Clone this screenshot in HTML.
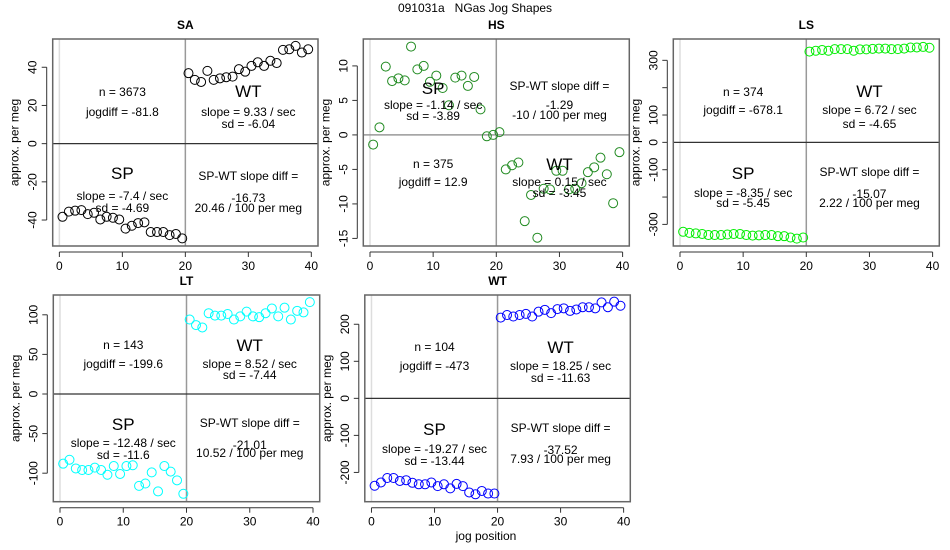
<!DOCTYPE html>
<html><head><meta charset="utf-8"><style>
body{margin:0;background:#fff;}
svg{display:block;font-family:"Liberation Sans",sans-serif;}
</style></head><body>
<svg id="c" width="950" height="550" viewBox="0 0 950 550">
<text x="475" y="12" text-anchor="middle" font-size="12">091031a&#160;&#160;&#160;NGas Jog Shapes</text>
<text x="486" y="540" text-anchor="middle" font-size="12">jog position</text>
</svg>
<script>
const jogPositions = [0.5,1.5,2.5,3.5,4.5,5.5,6.5,7.5,8.5,9.5,10.5,11.5,12.5,13.5,14.5,15.5,16.5,17.5,18.5,19.5];
const jogPositionsWT = [20.5,21.5,22.5,23.5,24.5,25.5,26.5,27.5,28.5,29.5,30.5,31.5,32.5,33.5,34.5,35.5,36.5,37.5,38.5,39.5];
const xTicks = [0,10,20,30,40];
const saSP = [-38.3,-35.6,-35.1,-34.8,-36.9,-36.2,-39.7,-38.3,-38.8,-39.7,-44.5,-43,-41.6,-41.2,-46.3,-46.3,-46.3,-47.9,-47.3,-49.6];
const saWT = [36.9,33.4,32.3,38.1,33.4,34.2,34.8,35.1,39,37.7,40.7,42.6,40.7,43.4,42.2,49.1,49.4,51.2,47.7,49.4];
const hsSP = [-1.4,1.1,9.9,7.8,8.2,7.9,12.8,9.5,10,7.7,8.6,6.8,4.3,8.3,8.6,7.1,8.4,3.7,-0.2,0];
const hsWT = [0.4,-5,-4.4,-4,-12.5,-8.7,-14.9,-7.8,-7.9,-5.2,-5.2,-7.9,-7.8,-7,-5.4,-4.7,-3.3,-5.7,-9.9,-2.5];
const lsSP = [-327,-331,-333,-335,-339,-339,-339,-337,-335,-335,-339,-341,-340,-339,-339,-343,-343,-348,-352,-348];
const lsWT = [332,335,338,335,341,341,341,335,340,340,342,343,343,341,341,343,347,347,349,346];
const ltSP = [-88,-83,-94,-96,-96,-93,-96,-102,-91,-101,-91,-90,-116,-113,-99,-123,-91,-98,-109,-126];
const ltWT = [94,87,84,102,99,99,101,94,98,104,98,97,102,108,98,109,94,105,103,116];
const wtSP = [-236,-227,-215,-215,-223,-221,-228,-232,-232,-227,-237,-232,-243,-231,-237,-254,-259,-250,-257,-257];
const wtWT = [218,225,221,225,228,221,234,239,230,241,243,236,240,246,246,243,259,246,261,250];
const saYTicks = [40,20,0,-20,-40];
const hsYTicks = [10,5,0,-5,-10,-15];
const lsYTicks = [300,200,100,0,-100,-200,-300];
const lsYLabels = ["300","","100","0","-100","","-300"];
const ltYTicks = [100,50,0,-50,-100];
const wtYTicks = [200,100,0,-100,-200];

const NS="http://www.w3.org/2000/svg";
const svg=document.getElementById('c');
function mk(tag,attrs,parent){const e=document.createElementNS(NS,tag);for(const k in attrs)e.setAttribute(k,attrs[k]);(parent||svg).appendChild(e);return e;}
function txt(x,y,s,size,parent,extra){const t=mk('text',Object.assign({x:x,y:y,'text-anchor':'middle','font-size':size},extra||{}),parent);t.textContent=s;return t;}

const panels=[
 {name:'sa',title:'SA',L:52.7,R:318,T:39,B:246,y0:54.8,y1:-53.6,sp:saSP,wt:saWT,col:'#000',ticks:saYTicks,labels:null,
  flip:false,n:'n = 3673',jog:'jogdiff = -81.8',wts:'slope = 9.33 / sec',wtsd:'sd = -6.04',sps:'slope = -7.4 / sec',spsd:'sd = -4.69',d1:'-16.73',d2:'20.46 / 100 per meg',
  ty:[92,112, 91,112,124, 173,196,208, 176,198,208]},
 {name:'hs',title:'HS',L:363.3,R:629.3,T:39,B:246,y0:13.9,y1:-16.1,sp:hsSP,wt:hsWT,col:'#228b22',ticks:hsYTicks,labels:null,
  flip:true,n:'n = 375',jog:'jogdiff = 12.9',wts:'slope = 0.15 / sec',wtsd:'sd = -3.45',sps:'slope = -1.14 / sec',spsd:'sd = -3.89',d1:'-1.29',d2:'-10 / 100 per meg',
  ty:[164,182, 164,182,193, 88,105,116, 86,105,115]},
 {name:'ls',title:'LS',L:673.3,R:939.3,T:39,B:246,y0:378,y1:-379,sp:lsSP,wt:lsWT,col:'#00ee00',ticks:lsYTicks,labels:lsYLabels,
  flip:false,n:'n = 374',jog:'jogdiff = -678.1',wts:'slope = 6.72 / sec',wtsd:'sd = -4.65',sps:'slope = -8.35 / sec',spsd:'sd = -5.45',d1:'-15.07',d2:'2.22 / 100 per meg',
  ty:[92,110, 91,110,124, 173,193,203, 172,194,203]},
 {name:'lt',title:'LT',L:53.3,R:319.7,T:295,B:501.7,y0:125,y1:-136,sp:ltSP,wt:ltWT,col:'#00ffff',ticks:ltYTicks,labels:null,
  flip:false,n:'n = 143',jog:'jogdiff = -199.6',wts:'slope = 8.52 / sec',wtsd:'sd = -7.44',sps:'slope = -12.48 / sec',spsd:'sd = -11.6',d1:'-21.01',d2:'10.52 / 100 per meg',
  ty:[345,364, 345,364,375, 424,443,455, 423,445,453]},
 {name:'wt',title:'WT',L:364.8,R:630.3,T:295,B:501.7,y0:279,y1:-279,sp:wtSP,wt:wtWT,col:'#0000ff',ticks:wtYTicks,labels:null,
  flip:false,n:'n = 104',jog:'jogdiff = -473',wts:'slope = 18.25 / sec',wtsd:'sd = -11.63',sps:'slope = -19.27 / sec',spsd:'sd = -13.44',d1:'-37.52',d2:'7.93 / 100 per meg',
  ty:[347,366, 347,366,378, 429,449,461, 428,450,459]}
];

panels.forEach(p=>{
 const g=mk('g',{});
 
 
 const xmin=-1.06,xmax=41.06;
 const sx=v=>p.L+(v-xmin)/(xmax-xmin)*(p.R-p.L);
 const sy=v=>p.T+(p.y0-v)/(p.y0-p.y1)*(p.B-p.T);
 const t=txt((p.L+p.R)/2,p.T-10,p.title,12,g,{'font-weight':'bold'});
 
 
 mk('line',{x1:sx(0),x2:sx(0),y1:p.T,y2:p.B,stroke:'#ddd','stroke-width':1.5},g);
 mk('line',{x1:sx(20),x2:sx(20),y1:p.T,y2:p.B,stroke:'#999','stroke-width':1.5},g);
 mk('line',{x1:p.L,x2:p.R,y1:sy(0),y2:sy(0),stroke:p.flip?'#999':'#333','stroke-width':p.flip?1.5:1.2},g);
 const box=mk('rect',{x:p.L,y:p.T,width:p.R-p.L,height:p.B-p.T,fill:'none',stroke:'#666','stroke-width':1.5},g);
 
 
 const ax=mk('g',{},g);
 
 
 mk('line',{x1:sx(0),x2:sx(40),y1:p.B+6,y2:p.B+6,stroke:'#333'},ax);
 xTicks.forEach(v=>{mk('line',{x1:sx(v),x2:sx(v),y1:p.B+6,y2:p.B+11,stroke:'#333'},ax);txt(sx(v),p.B+24,String(v),12,ax);});
 const ay=mk('g',{},g);
 
 
 const yl=p.L-6;
 mk('line',{x1:yl,x2:yl,y1:sy(p.ticks[0]),y2:sy(p.ticks[p.ticks.length-1]),stroke:'#333'},ay);
 p.ticks.forEach((v,i)=>{
  mk('line',{x1:yl-5,x2:yl,y1:sy(v),y2:sy(v),stroke:'#333'},ay);
  const lab=p.labels?p.labels[i]:String(v);
  if(lab){const x=yl-10,y=sy(v);txt(x,y,lab,12,ay,{transform:`rotate(-90 ${x} ${y})`});}
 });
 const yx=p.L-34;
 txt(yx,(p.T+p.B)/2,'approx. per meg',12,ay,{transform:`rotate(-90 ${yx} ${(p.T+p.B)/2})`});
 const pts=mk('g',{fill:'none',stroke:p.col,'stroke-width':1},g);
 
 
 p.sp.forEach((v,i)=>{const c=mk('circle',{cx:sx(jogPositions[i]),cy:sy(v),r:4.5},pts);
  
  });
 p.wt.forEach((v,i)=>{const c=mk('circle',{cx:sx(jogPositionsWT[i]),cy:sy(v),r:4.5},pts);
  
  });
 const an=mk('g',{},g);
 
 
 const xl=sx(10), xr=sx(30), ty=p.ty;
 txt(xl,ty[0]+4,p.n,12,an);txt(xl,ty[1]+4,p.jog,12,an);
 txt(xr,ty[2]+6,'WT',17,an);txt(xr,ty[3]+4,p.wts,12,an);txt(xr,ty[4]+4,p.wtsd,12,an);
 txt(xl,ty[5]+6,'SP',17,an);txt(xl,ty[6]+4,p.sps,12,an);txt(xl,ty[7]+4,p.spsd,12,an);
 txt(xr,ty[8]+4,'SP-WT slope diff =',12,an);txt(xr,ty[9]+4,p.d1,12,an);txt(xr,ty[10]+4,p.d2,12,an);
});
</script>
</body></html>
